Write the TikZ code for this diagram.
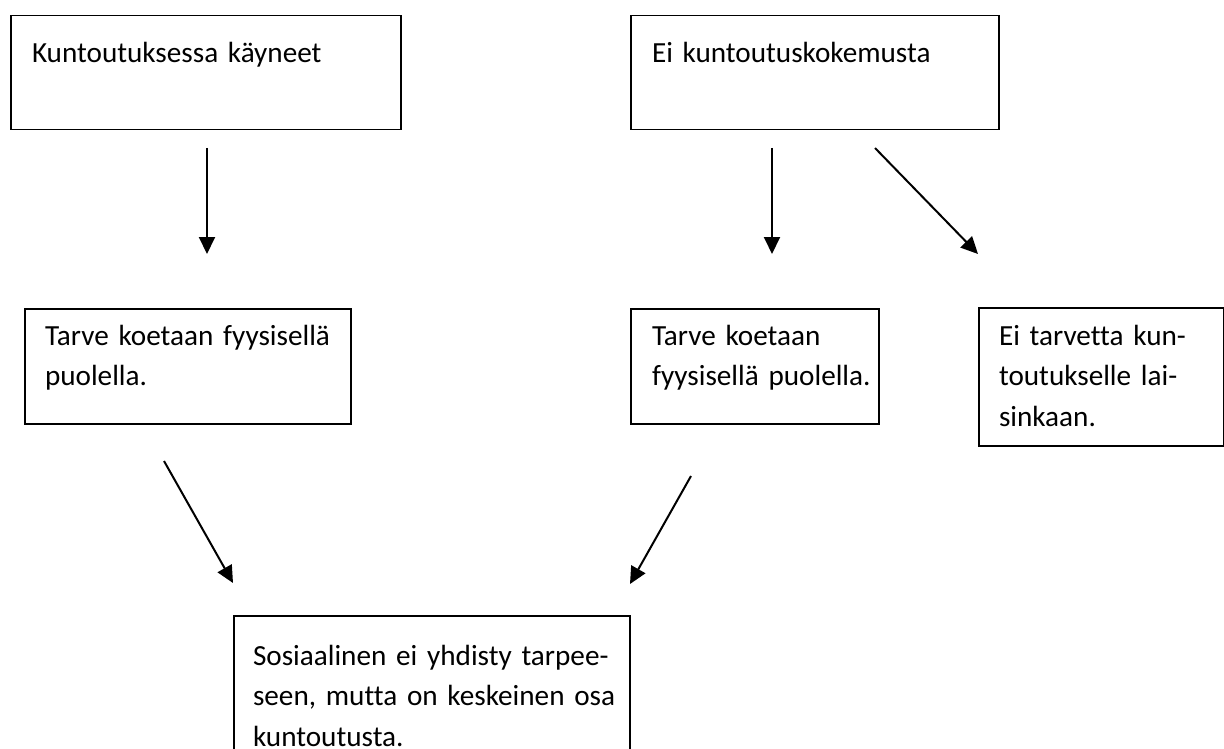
\documentclass[tikz,border=0pt]{standalone}
\usepackage{fontspec}
\setmainfont{Carlito}[Ligatures={NoCommon}]
\usetikzlibrary{arrows.meta}
\tikzset{
  box/.style={draw=black, line width=1.5pt, fill=none},
  txt/.style={anchor=base west, inner sep=0pt, outer sep=0pt, align=left,
    text width=480pt, font=\fontsize{29.2}{40.5}\selectfont},
  arr/.style={line width=2pt, -{Triangle[length=17pt,width=16pt]}}
}
\begin{document}
\begin{tikzpicture}[x=1pt,y=-1pt]
\useasboundingbox (0,0) rectangle (1224,749);
\clip (0,0) rectangle (1224,749);
% boxes
\node[box, anchor=north west, minimum width=390pt, minimum height=114pt] (b1) at (10,15) {};
\node[box, anchor=north west, minimum width=368pt, minimum height=114pt] (b2) at (630,15) {};
\node[box, anchor=north west, minimum width=326pt, minimum height=115pt] (b3) at (24,308) {};
\node[box, anchor=north west, minimum width=248pt, minimum height=115pt] (b4) at (630,308) {};
\node[box, anchor=north west, minimum width=245pt, minimum height=138pt] (b5) at (978,307) {};
\node[box, anchor=north west, minimum width=396pt, minimum height=160pt] (b6) at (233,615) {};
% texts
\node[txt] (t1) at (32,63) {Kuntoutuksessa käyneet};
\node[txt] (t2) at (652,63) {Ei kuntoutuskokemusta};
\node[txt] (t3) at (45,345) {Tarve koetaan fyysisellä\\puolella.};
\node[txt] (t4) at (652,345) {Tarve koetaan\\fyysisellä puolella.};
\node[txt] (t5) at (999,345) {Ei tarvetta kun-\\toutukselle lai-\\sinkaan.};
\node[txt] (t6) at (253,665) {Sosiaalinen ei yhdisty tarpee-\\seen, mutta on keskeinen osa\\kuntoutusta.};
% arrow end points
\coordinate (a1s) at (207,148); \coordinate (a1e) at (207,254);
\coordinate (a2s) at (772,148); \coordinate (a2e) at (772,254);
\coordinate (a3s) at (875,148); \coordinate (a3e) at (978,254);
\coordinate (a4s) at (164,461); \coordinate (a4e) at (233,583);
\coordinate (a5s) at (691,476); \coordinate (a5e) at (630,584);
\draw[arr] (a1s) -- (a1e);
\draw[arr] (a2s) -- (a2e);
\draw[arr] (a3s) -- (a3e);
\draw[arr] (a4s) -- (a4e);
\draw[arr] (a5s) -- (a5e);
\end{tikzpicture}
\end{document}
